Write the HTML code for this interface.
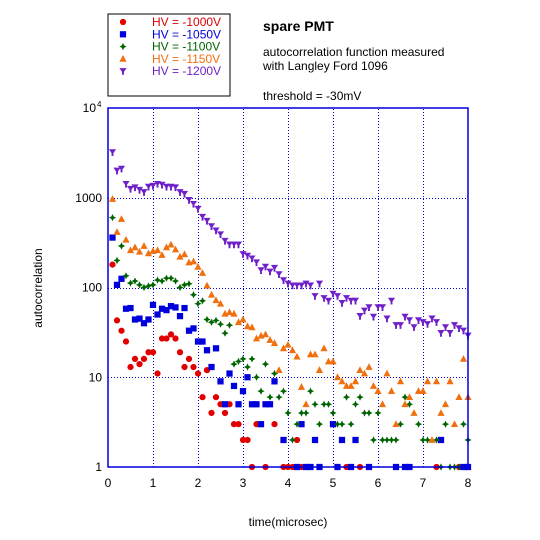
<!DOCTYPE html>
<html><head><meta charset="utf-8"><style>
body{margin:0;background:#fff}
svg{display:block;font-family:"Liberation Sans",sans-serif}
</style></head><body>
<svg id="chart" width="540" height="540" viewBox="0 0 540 540" xmlns="http://www.w3.org/2000/svg">
<rect x="0" y="0" width="540" height="540" fill="#fff"/>
<g id="grid"></g>
<g id="marks"></g>
<rect x="108" y="108" width="360" height="359" fill="none" stroke="#0000dd" stroke-width="1.5"/>
<g id="ticks" font-size="12" fill="#000"></g>
<text x="288" y="526" font-size="12" text-anchor="middle">time(microsec)</text>
<text x="42" y="288" font-size="12" text-anchor="middle" transform="rotate(-90 42 288)">autocorrelation</text>
<g>
<rect x="108" y="14" width="122" height="82" fill="#fff" stroke="#000" stroke-width="1"/>
<g id="legend"></g>
</g>
<text x="263" y="31" font-size="14" font-weight="bold">spare PMT</text>
<text x="263" y="56" font-size="12">autocorrelation function measured</text>
<text x="263" y="70" font-size="12">with Langley Ford 1096</text>
<text x="263" y="100" font-size="12">threshold = -30mV</text>
</svg>
<script>
const seriesNames = ["HV = -1000V","HV = -1050V","HV = -1100V","HV = -1150V","HV = -1200V"];
const xTicks = [0,1,2,3,4,5,6,7,8];
const yTicks = [1,10,100,1000,10000];
const yTickLabels = ["1","10","100","1000","10"];
const hv1000 = [180,43,33,25,13,16,14,16,19,19, 11,27,27,30,27,19,13,16,13,11, 6,12,4,6,5,4,5,3,3,2, 2,1,3,null,1,null,3,null,1,1, 1,2,1,null,null,null,null,null,null,null, null,null,1,null,null,1,null,null,null,null, null,null,null,null,null,null,null,null,null,null, null,null,1,null,null,null,null,1,null,null];
const hv1050 = [360,107,125,58,59,44,45,40,44,64, 50,58,56,62,60,48,59,33,35,25, 25,20,13,21,9,5,11,8,5,7, 10,5,5,3,5,5,9,null,2,null, null,1,3,1,1,2,1,null,null,3, 1,2,null,1,2,null,null,1,null,null, null,null,null,1,null,1,1,null,null,null, null,null,null,2,null,null,null,null,1,1];
const hv1100 = [600,200,290,135,112,118,107,100,104,107, 121,118,127,127,118,100,107,110,83,66, 71,44,41,43,39,31,38,14,15,16, 13,16,10,7,14,6,11,6,7,4, 2,3,4,4,7,5,3,5,5,4, 3,3,6,3,5,6,4,4,2,4, 2,2,2,2,3,6,5,null,3,2, 2,null,2,1,3,1,1,1,3,2];
const hv1150 = [970,415,580,340,260,280,250,290,240,255, 260,230,280,300,265,220,235,190,195,170, 145,105,83,72,66,51,53,51,41,44, 37,36,27,29,30,26,24,12,21,23, 20,17,7.8,5,18,18,12,21,15,15, 10,9,8,8,9,12,11,13,8,7, 5,11,7,3,9,5,6,4,7,7, 9,2,9,4,5,9,3,6,16,6];
const hv1200 = [3200,2000,2100,1420,1250,1300,1220,1150,1320,1350, 1420,1390,1320,1320,1300,1150,1100,940,850,750, 610,550,480,430,390,330,300,300,300,235, 225,210,190,155,170,150,165,140,120,110, 105,105,105,110,105,80,110,76,71,85, 80,67,76,71,71,48,55,60,47,60, 60,45,71,38,38,47,43,36,43,41, 39,45,41,31,36,31,38,35,33,29];
const timeStep = 0.1;

const NS="http://www.w3.org/2000/svg";
const X0=108,X1=468,Y0=467,Y1=108;
function xs(t){return X0+(t-0)/(8-0)*(X1-X0);}
function ys(v){return Y0-(Math.log10(v)-0)/4*(Y0-Y1);}
function mk(tag,attrs,parent){const e=document.createElementNS(NS,tag);for(const k in attrs)e.setAttribute(k,attrs[k]);parent.appendChild(e);return e;}
const colors=["#e00000","#0000dd","#006400","#f07010","#7020c8"];
const shapes=["circle","square","diamond","tri","funnel"];
function marker(shape,x,y,c,parent){
  let e;const s=1.2;
  if(shape==="circle") e=mk("circle",{cx:x,cy:y,r:2.6*s,fill:c},parent);
  else if(shape==="square") e=mk("rect",{x:x-2.6*s,y:y-2.6*s,width:5.2*s,height:5.2*s,fill:c},parent);
  else if(shape==="diamond") e=mk("path",{d:`M${x} ${y-3*s}L${x+1*s} ${y-1*s}L${x+3*s} ${y}L${x+1*s} ${y+1*s}L${x} ${y+3*s}L${x-1*s} ${y+1*s}L${x-3*s} ${y}L${x-1*s} ${y-1*s}Z`,fill:c},parent);
  else if(shape==="tri") e=mk("path",{d:`M${x} ${y-3.2*s}L${x+3*s} ${y+2.4*s}L${x-3*s} ${y+2.4*s}Z`,fill:c},parent);
  else e=mk("path",{d:`M${x-3*s} ${y-2.6*s}L${x+3*s} ${y-2.6*s}L${x+0.8*s} ${y+0.6*s}L${x+0.8*s} ${y+3*s}L${x-0.8*s} ${y+3*s}L${x-0.8*s} ${y+0.6*s}Z`,fill:c},parent);
  return e;
}
const grid=document.getElementById('grid');
xTicks.forEach(t=>{
  if(t>0&&t<8){const px=Math.round(xs(t))+0.5;const l=mk("line",{x1:px,x2:px,y1:Y0,y2:Y1,stroke:"#0000dd","stroke-width":1,"stroke-dasharray":"1,2"},grid);
  
  }
});
yTicks.forEach(v=>{
  if(v>1&&v<10000){const py=Math.round(ys(v))+0.5;const l=mk("line",{x1:X0,x2:X1,y1:py,y2:py,stroke:"#0000dd","stroke-width":1,"stroke-dasharray":"1,2"},grid);
  
  }
});
const ticks=document.getElementById('ticks');
xTicks.forEach(t=>{
  const tx=mk("text",{x:xs(t),y:487,"text-anchor":"middle"},ticks);tx.textContent=String(t);
  
  
});
yTicks.forEach((v,i)=>{
  const tx=mk("text",{x:i===4?96:102,y:ys(v)+4,"text-anchor":"end"},ticks);tx.textContent=yTickLabels[i];
  
  
  if(i===4){const s=mk("text",{x:97,y:ys(v)-1,"font-size":"8"},ticks);s.textContent="4";
  
  }
});
const marks=document.getElementById('marks');
[hv1000,hv1050,hv1100,hv1150,hv1200].forEach((arr,si)=>{
  const g=mk("g",{},marks);
  
  
  arr.forEach((v,i)=>{
    if(v==null||v<=0)return;
    const t=(i+1)*timeStep;
    const m=marker(shapes[si],xs(t),ys(v),colors[si],g);
    
    
  });
});
const leg=document.getElementById('legend');
seriesNames.forEach((n,i)=>{
  const y=22+i*12.3;
  const g=mk("g",{},leg);
  
  
  marker(shapes[i],123,y,colors[i],g);
  const tx=mk("text",{x:152,y:y+4,"font-size":"12",fill:colors[i]},g);tx.textContent=n;
});
</script>
</body></html>
